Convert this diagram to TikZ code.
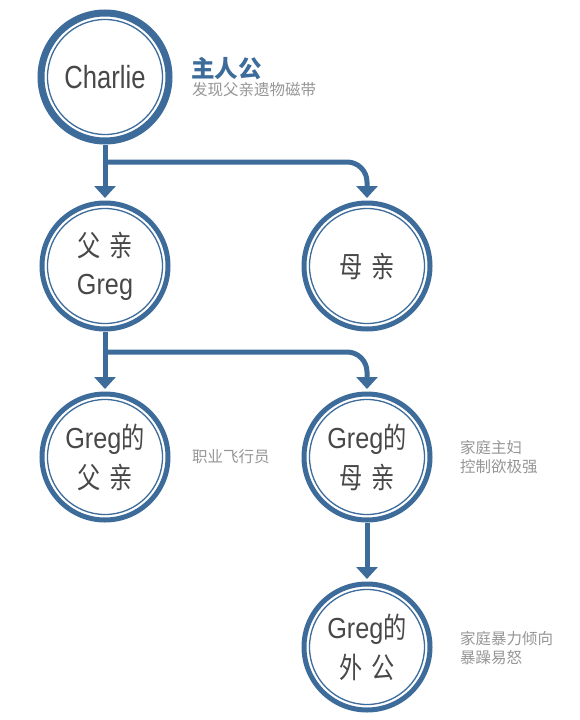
\documentclass[tikz,border=0pt]{standalone}
\usepackage{fontspec}
\setmainfont{Liberation Sans}
\newfontfamily\narrow[FakeStretch=0.87]{Liberation Sans}
\newfontfamily\narrowc[FakeStretch=0.8]{Liberation Sans}
\newfontfamily\cjk{Noto Sans CJK SC}
\newfontfamily\cjkn[FakeStretch=0.8]{Noto Sans CJK SC}
\usetikzlibrary{arrows.meta}
\definecolor{ringblue}{RGB}{61,108,155}
\definecolor{txtdark}{RGB}{72,72,72}
\definecolor{txtgrey}{RGB}{150,150,150}
\tikzset{
  ring/.style={circle, draw=ringblue, line width=5pt, minimum size=126pt, inner sep=0pt,
    align=center, text=txtdark, font=\fontsize{28}{38}\selectfont,
    path picture={\draw[ringblue, line width=1.3pt] (path picture bounding box.center) circle (57.5pt);}},
  bigring/.style={ring, line width=7pt, minimum size=128pt},
  conn/.style={draw=ringblue, line width=5pt, -{Triangle[width=21pt,length=12pt]}, shorten >=2.5pt},
  branch/.style={draw=ringblue, line width=5pt, rounded corners=20pt, -{Triangle[width=21pt,length=12pt]}, shorten >=2.5pt},
  note/.style={anchor=west, align=left, text=txtgrey, inner sep=0pt,
    font=\cjk\fontsize{15.5}{19.5}\selectfont},
}
\newcommand{\zh}[1]{{\cjkn\fontsize{29}{38}\selectfont #1}}
\newcommand{\gr}[1]{{\narrow\fontsize{29}{38}\selectfont #1}}
\begin{document}
\begin{tikzpicture}[x=1pt,y=-1pt]
\useasboundingbox (0,0) rectangle (580,720);
\fill[white] (0,0) rectangle (580,720);
\node[bigring] (charlie) at (105,77) {{\narrowc\fontsize{32}{38}\selectfont Charlie}};
\node[ring] (father) at (105,266) {\zh{父\hspace{9pt}亲}\\\gr{Greg}};
\node[ring] (mother) at (367,266) {\zh{母\hspace{9pt}亲}};
\node[ring, font=\fontsize{28}{40}\selectfont] (gfather) at (105,457) {\gr{Greg}\zh{的}\\\zh{父\hspace{9pt}亲}};
\node[ring, font=\fontsize{28}{40}\selectfont] (gmother) at (367,457) {\gr{Greg}\zh{的}\\\zh{母\hspace{9pt}亲}};
\node[ring, font=\fontsize{28}{40}\selectfont] (ggf) at (367,647) {\gr{Greg}\zh{的}\\\zh{外\hspace{9pt}公}};

\coordinate (b1) at (105,162);
\coordinate (b2) at (105,352);
\draw[conn] (charlie.south) -- (father.north);
\draw[branch] (b1) -| (mother.north);
\draw[conn] (father.south) -- (gfather.north);
\draw[branch] (b2) -| (gmother.north);
\draw[conn] (gmother.south) -- (ggf.north);

\node[anchor=west, inner sep=0pt, text=ringblue, font=\cjk\bfseries\fontsize{23.5}{26}\selectfont] (hero) at (191,69) {主人公};
\node[note] (herodesc) at (192,90) {发现父亲遗物磁带};
\node[note] (gfdesc) at (192,457) {职业飞行员};
\node[note] (gmdesc) at (460,457) {家庭主妇\\控制欲极强};
\node[note] (ggfdesc) at (460,648) {家庭暴力倾向\\暴躁易怒};
\end{tikzpicture}
\end{document}
